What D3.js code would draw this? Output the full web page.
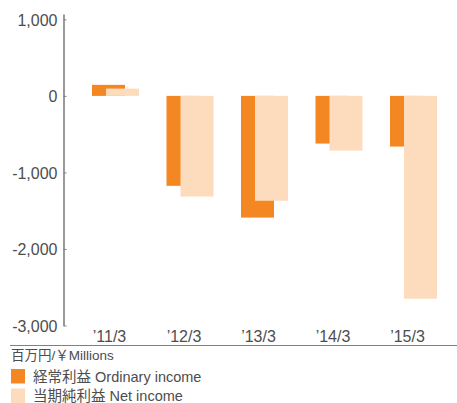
<!DOCTYPE html>
<html>
<head>
<meta charset="utf-8">
<script src="https://cdn.jsdelivr.net/npm/d3@7"></script>
<style>
  body { margin: 0; background: #fff; }
  svg { display: block; }
  .tick text { font-family: "Liberation Sans", Arial, sans-serif; font-size: 16px; fill: #4d4d4d; }
  .label { font-family: "Liberation Sans", "Noto Sans CJK JP", sans-serif; fill: #4d4d4d; }
</style>
</head>
<body>
<div id="chart"></div>
<script>
// data
const periods = ["\u201911/3", "\u201912/3", "\u201913/3", "\u201914/3", "\u201915/3"];
const ordinaryIncome = [144, -1175, -1590, -623, -662];
const netIncome = [95, -1315, -1370, -715, -2650];
const yTicks = [1000, 0, -1000, -2000, -3000];
const unitLabel = "百万円/￥Millions";
const legendLabels = ["経常利益 Ordinary income", "当期純利益 Net income"];
const colors = ["#f58722", "#fddcbd"];

const width = 457, height = 403;

const svg = d3.select("#chart").append("svg")
    .attr("width", width)
    .attr("height", height);

const y = d3.scaleLinear()
    .domain([-3000, 1070])
    .range([325.5, 14]);

const x = d3.scaleBand()
    .domain(periods)
    .range([78.25, 450.75])
    .paddingInner(0.369)
    .paddingOuter(0.1845);

// bars are 33px wide, second one shifted 14px and drawn on top
const barW = x.bandwidth() * 33 / 47;
const shift = x.bandwidth() - barW;

svg.append("g")
    .selectAll("rect")
    .data(ordinaryIncome)
    .join("rect")
    .attr("x", (d, i) => x(periods[i]))
    .attr("y", d => y(Math.max(0, d)))
    .attr("width", barW)
    .attr("height", d => Math.abs(y(d) - y(0)))
    .attr("fill", colors[0]);

svg.append("g")
    .selectAll("rect")
    .data(netIncome)
    .join("rect")
    .attr("x", (d, i) => x(periods[i]) + shift)
    .attr("y", d => y(Math.max(0, d)))
    .attr("width", barW)
    .attr("height", d => Math.abs(y(d) - y(0)))
    .attr("fill", colors[1]);

// y axis, ticks pointing right, labels on the left
const fmt = d3.format(",");
const yAxis = svg.append("g")
    .attr("transform", "translate(63.5,0)")
    .call(d3.axisRight(y)
        .tickValues(yTicks)
        .tickSize(3)
        .tickSizeOuter(0)
        .tickFormat(d => fmt(d).replace("\u2212", "-")));
yAxis.select(".domain").attr("stroke", "#808080").attr("stroke-width", 1.6);
yAxis.selectAll(".tick line").attr("stroke", "#808080");
yAxis.selectAll(".tick text")
    .attr("x", -6)
    .attr("dy", "0.36em")
    .attr("text-anchor", "end");

// x labels under the orange bars
svg.append("g")
    .selectAll("text")
    .data(periods)
    .join("text")
    .classed("label", true)
    .attr("x", d => x(d) + barW / 2 + 1)
    .attr("y", 342)
    .attr("text-anchor", "middle")
    .style("font-size", "16px")
    .text(d => d);

// base line
svg.append("line")
    .attr("x1", 10).attr("x2", width)
    .attr("y1", 345.5).attr("y2", 345.5)
    .attr("stroke", "#808080")
    .attr("stroke-width", 1);

svg.append("text")
    .classed("label", true)
    .attr("x", 11)
    .attr("y", 360)
    .style("font-size", "13.5px")
    .text(unitLabel);

// legend
const legend = svg.append("g")
    .selectAll("g")
    .data(legendLabels)
    .join("g")
    .attr("transform", (d, i) => `translate(11, ${369 + i * 19.5})`);

legend.append("rect")
    .attr("width", 14)
    .attr("height", 14.5)
    .attr("fill", (d, i) => colors[i]);

legend.append("text")
    .classed("label", true)
    .attr("x", 22)
    .attr("y", 12.5)
    .style("font-size", "14.5px")
    .text(d => d);
</script>
</body>
</html>
